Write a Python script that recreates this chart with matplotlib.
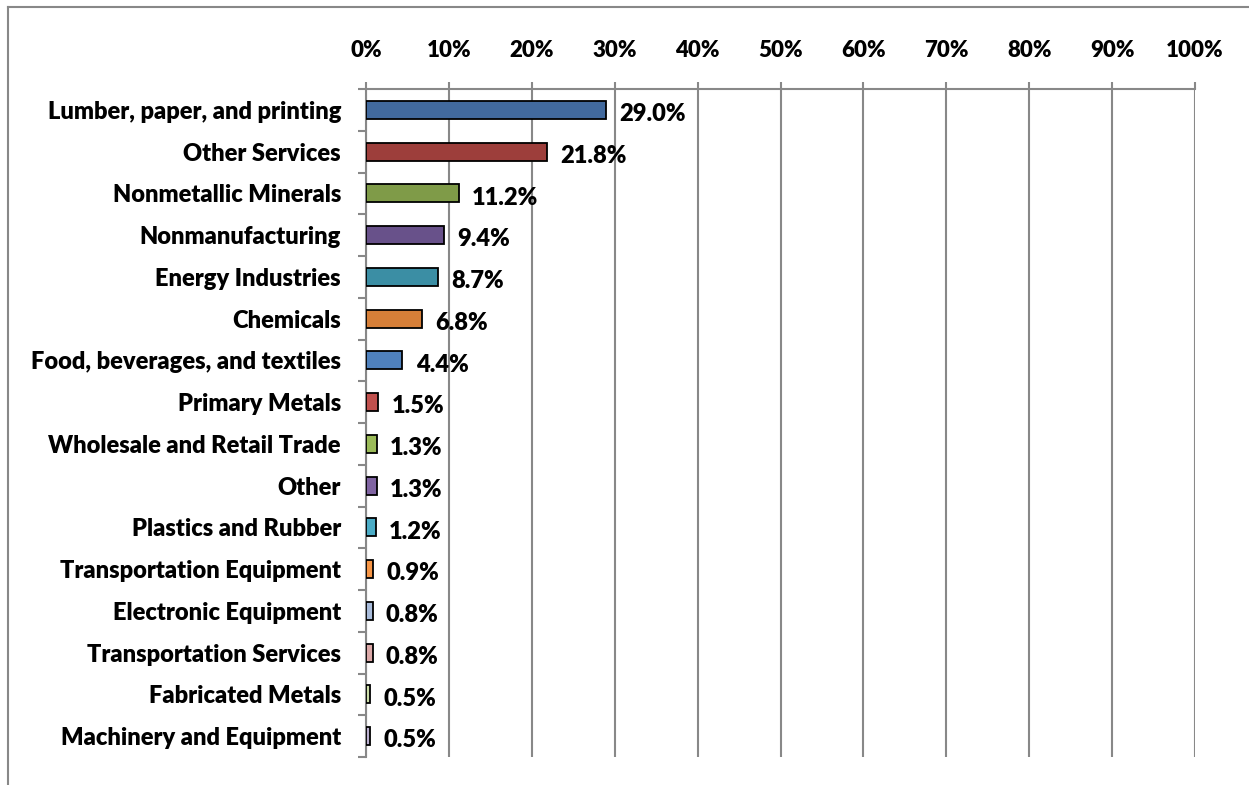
import numpy as np
import matplotlib
matplotlib.use("Agg")
import matplotlib.pyplot as plt
from matplotlib.ticker import FixedLocator, PercentFormatter

# datos (de arriba abajo)
categorias = [
    "Lumber, paper, and printing", "Other Services", "Nonmetallic Minerals",
    "Nonmanufacturing", "Energy Industries", "Chemicals",
    "Food, beverages, and textiles", "Primary Metals",
    "Wholesale and Retail Trade", "Other", "Plastics and Rubber",
    "Transportation Equipment", "Electronic Equipment",
    "Transportation Services", "Fabricated Metals", "Machinery and Equipment",
]
valores = [29.0, 21.8, 11.2, 9.4, 8.7, 6.8, 4.4, 1.5, 1.3, 1.3, 1.2,
           0.9, 0.8, 0.8, 0.5, 0.5]
colores = [
    "#426A9E", "#9D3E3B", "#7F9B48", "#68518A", "#3B8EA4", "#D67F38",
    "#4F81BD", "#C0504D", "#9BBB59", "#8064A2", "#4BACC6", "#F79646",
    "#A9BCDB", "#DCA9A8", "#CCDDA9", "#BBB0D0",
]
ticks_x = list(range(0, 101, 10))

GRIS = "#888888"
FUENTE = ["Lato", "DejaVu Sans"]
PESO = "heavy"
plt.rcParams["font.family"] = FUENTE
plt.rcParams["font.weight"] = PESO

fig = plt.figure(figsize=(12.49, 7.85), dpi=100)
ax = fig.add_axes([366 / 1249, 1 - 757 / 785, (1195 - 366) / 1249,
                   (757 - 89) / 785])

n = len(categorias)
y = np.arange(n)
ax.barh(y, valores, height=0.43, color=colores, edgecolor="black",
        linewidth=1.3, zorder=3)

for yi, v in zip(y, valores):
    ax.text(v + 1.6, yi + 0.1, f"{v:.1f}%", ha="left", va="center",
            fontsize=17, fontweight=PESO, color="black", zorder=4)

ax.set_xlim(0, 100)
ax.set_ylim(n - 0.5, -0.5)

ax.xaxis.tick_top()
ax.set_xticks(ticks_x)
ax.xaxis.set_major_formatter(PercentFormatter(decimals=0))
ax.tick_params(axis="x", direction="out", length=5, width=1.5, color=GRIS,
               pad=15, labelsize=16)
ax.grid(axis="x", color=GRIS, lw=1.5, zorder=0)

ax.set_yticks(y)
ax.set_yticklabels(categorias)
ax.yaxis.set_minor_locator(FixedLocator(np.arange(-0.5, n, 1.0)))
ax.tick_params(axis="y", which="major", length=0, pad=18, labelsize=17)
ax.tick_params(axis="y", which="minor", direction="out", length=6,
               width=1.5, color=GRIS)

for lado in ("right", "bottom"):
    ax.spines[lado].set_visible(False)
for lado in ("left", "top"):
    ax.spines[lado].set_color(GRIS)
    ax.spines[lado].set_linewidth(1.5)

# marco exterior del gráfico (solo izquierda y arriba)
fig.add_artist(plt.Line2D([8 / 1249, 8 / 1249], [0, 1 - 7 / 785],
                          color=GRIS, lw=1.5))
fig.add_artist(plt.Line2D([8 / 1249, 1], [1 - 7 / 785, 1 - 7 / 785],
                          color=GRIS, lw=1.5))

fig.savefig("out.png", dpi=100)
